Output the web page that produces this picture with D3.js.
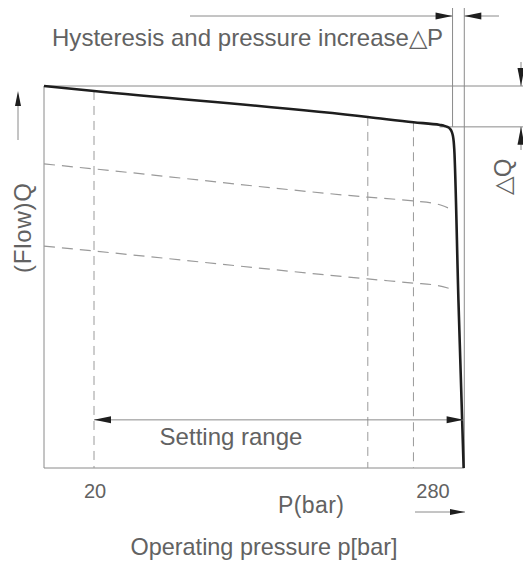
<!DOCTYPE html>
<html><head><meta charset="utf-8">
<script src="https://cdn.jsdelivr.net/npm/d3@7/dist/d3.min.js"></script>
<style>body{margin:0;background:#fff}svg{display:block}text{font-family:"Liberation Sans",Arial,sans-serif;fill:#626262}</style>
</head><body><div id="chart"></div>
<script>
// ---- data (schematic: pressure in bar, flow Q in % of max) ----
const xTickValues = [20, 280];
const xTickLabels = ["20", "280"];
const mainCurve = [[0,100],[20,98.7],[230,91.9],[265,90.5],[285.4,89.8],[288,89.65],[291,89.3],[293,88.8],[294.4,88.0],[295.3,86.9],[295.9,85.4],[296.3,83.5],[299.5,44],[303.5,0]];
const dashedCurve1 = [[0,79.6],[20,78.3],[230,70.9],[265,69.9],[283,69.1],[291.5,68.1]];
const dashedCurve2 = [[0,58.1],[20,56.8],[230,49.5],[265,48.4],[283,47.8],[294.6,46.8]];
const dashedVerticals = [[20,98.7],[230,91.9],[265,90.5]];
const settingRange = [20, 303.5];
const settingRangeQ = 12.6;
const deltaP = [295, 304];
const deltaQ = [100, 89.3];

const W = 523, H = 562;
const mLeft = 44, mBottom = 468, mTop = 86;
const svg = d3.select("#chart").append("svg").attr("width", W).attr("height", H);

const x = d3.scaleLinear().domain([0, 20, 280]).range([mLeft, mLeft + 50, mLeft + 389]);
const y = d3.scaleLinear().domain([0, 100]).range([mBottom, mTop]);

const thin = "#8a8a8a", dark = "#1e1e1e";
function seg(x1,y1,x2,y2,opt={}){
  return svg.append("line").attr("x1",x1).attr("y1",y1).attr("x2",x2).attr("y2",y2)
    .attr("stroke",opt.c||thin).attr("stroke-width",opt.w||1).attr("stroke-dasharray",opt.d||null);
}
function head(tx,ty,ang,len=15,hw=3.5){
  const a = ang*Math.PI/180, c=Math.cos(a), s=Math.sin(a);
  const bx = tx - c*len, by = ty - s*len;
  svg.append("path").attr("d",`M${tx},${ty}L${bx - s*hw},${by + c*hw}L${bx + s*hw},${by - c*hw}Z`).attr("fill",dark);
}

// axes frame
seg(x(0), y(0), x(304), y(0));
seg(x(0), y(0), x(0), y(100));
// reference lines for ΔQ
seg(x(0), y(deltaQ[0]), W, y(deltaQ[0]));
seg(x(285), y(deltaQ[1]), W, y(deltaQ[1]));
// ΔP dimension lines
seg(x(deltaP[0]), 8, x(deltaP[0]), y(deltaQ[1]));
seg(x(deltaP[1]), 8, x(deltaP[1]), y(0));
seg(190, 16, x(deltaP[0]), 16); head(x(deltaP[0]), 16, 0, 17, 3.5);
seg(x(deltaP[1]), 16, 499, 16); head(x(deltaP[1]), 16, 180, 17, 3.5);
// ΔQ arrows
seg(521, 62, 521, y(deltaQ[0])); head(521, y(deltaQ[0]), 90, 18, 3.5);
seg(521, y(deltaQ[1]), 521, 150); head(521, y(deltaQ[1]), -90, 18, 3.5);

// dashed verticals
dashedVerticals.forEach(d => seg(x(d[0]), y(d[1]), x(d[0]), y(0), {c:"#9a9a9a", w:1, d:"9,6"}));

const line = d3.line().x(d => x(d[0])).y(d => y(d[1])).curve(d3.curveMonotoneX);
[dashedCurve1, dashedCurve2].forEach(c => svg.append("path").attr("d", line(c)).attr("fill","none")
  .attr("stroke","#9a9a9a").attr("stroke-width",1.2).attr("stroke-dasharray","11,7"));
svg.append("path").attr("d", line(mainCurve)).attr("fill","none").attr("stroke",dark).attr("stroke-width",2.6).attr("stroke-linejoin","round");

// setting range
const sy = y(settingRangeQ);
seg(x(settingRange[0]), sy, x(settingRange[1]), sy);
head(x(settingRange[0]), sy, 180, 17, 3.5);
head(x(settingRange[1]), sy, 0, 17, 3.5);
svg.append("text").attr("x", 231).attr("y", 445).attr("text-anchor","middle").style("font-size","24px").text("Setting range");

// tick labels
xTickValues.forEach((v,i) => svg.append("text").attr("x", x(v) + (i ? 0 : 1)).attr("y", 498)
  .attr("text-anchor","middle").style("font-size","20px").text(xTickLabels[i]));

svg.append("text").attr("x", 311).attr("y", 513).attr("text-anchor","middle").style("font-size","23px")
  .attr("textLength", 66).attr("lengthAdjust","spacing").text("P(bar)");
seg(415, 512, 465, 512); head(465, 512, 0, 15, 3);

svg.append("text").attr("x", 264).attr("y", 555).attr("text-anchor","middle").style("font-size","24px")
  .attr("textLength", 267).attr("lengthAdjust","spacingAndGlyphs").text("Operating pressure p[bar]");

svg.append("text").attr("x", 52).attr("y", 46).style("font-size","24px")
  .attr("textLength", 391).attr("lengthAdjust","spacing").text("Hysteresis and pressure increase△P");

// y label
svg.append("text").attr("transform","translate(31,228) rotate(-90)").attr("text-anchor","middle")
  .style("font-size","24px").attr("textLength", 90).attr("lengthAdjust","spacing").text("(Flow)Q");
seg(18, 140, 18, 100); head(18, 91, -90, 15, 3);

// ΔQ label
svg.append("text").attr("transform","translate(511,177) rotate(-90)").attr("text-anchor","middle")
  .style("font-size","24px").text("△Q");
</script></body></html>
